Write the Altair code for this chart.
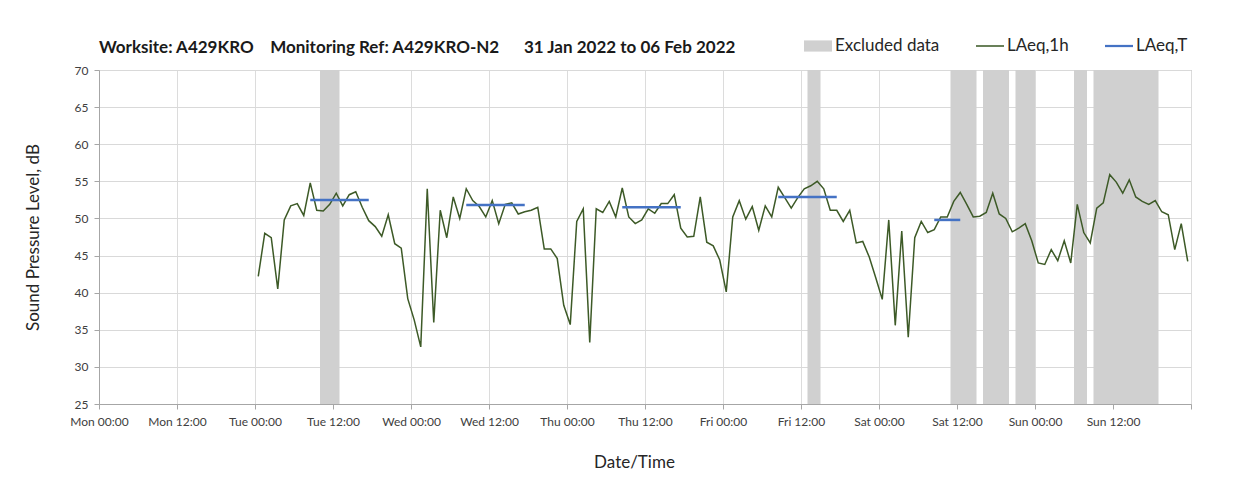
import altair as alt
import pandas as pd

# ---- data ----
day_labels = ["Mon", "Tue", "Wed", "Thu", "Fri", "Sat", "Sun"]
tick_hours = list(range(0, 169, 12))
y_ticks = list(range(25, 71, 5))

# hourly LAeq,1h values, first value centred at Tue 00:30 (hour 24.5 from Mon 00:00)
first_hour = 24.5
laeq_1h = [
    42.2, 48.0, 47.4, 40.5, 49.8, 51.7, 52.0, 50.4, 54.8, 51.1,
    51.0, 51.9, 53.4, 51.7, 53.2, 53.6, 51.5, 49.7, 48.9, 47.6,
    50.5, 46.6, 46.0, 39.2, 36.3, 32.7, 54.0, 36.0, 51.1, 47.4,
    52.9, 50.0, 54.0, 52.4, 51.6, 50.2, 52.4, 49.3, 51.9, 52.1,
    50.6, 50.9, 51.1, 51.5, 45.9, 45.9, 44.6, 38.3, 35.7, 49.6,
    51.3, 33.3, 51.3, 50.8, 52.3, 50.2, 54.1, 50.2, 49.3, 49.8,
    51.3, 50.7, 52.0, 52.0, 53.2, 48.7, 47.5, 47.6, 52.9, 46.8,
    46.3, 44.4, 40.1, 50.2, 52.4, 49.9, 51.6, 48.4, 51.7, 50.2,
    54.2, 52.8, 51.4, 52.8, 54.0, 54.4, 55.0, 54.0, 51.1, 51.1,
    49.6, 51.1, 46.7, 46.9, 44.8, 42.0, 39.1, 49.8, 35.6, 48.3,
    34.0, 47.4, 49.6, 48.1, 48.5, 50.2, 50.2, 52.3, 53.5, 51.9,
    50.2, 50.3, 50.8, 53.4, 50.6, 50.0, 48.2, 48.7, 49.3, 47.0,
    44.0, 43.8, 45.8, 44.3, 47.0, 44.0, 51.9, 48.1, 46.7, 51.4,
    52.1, 55.9, 54.9, 53.4, 55.2, 52.9, 52.3, 51.9, 52.4, 50.9,
    50.5, 45.8, 49.3, 44.2,
]
hours = [first_hour + i for i in range(len(laeq_1h))]

# LAeq,T period lines (start hour, end hour, level)
laeqT_start = [32.5, 56.5, 80.5, 104.5, 128.5]
laeqT_end = [41.5, 65.5, 89.5, 113.5, 132.5]
laeqT_val = [52.5, 51.8, 51.5, 52.9, 49.8]

# excluded data periods (hours from Mon 00:00)
excl_start = [34, 109, 131, 136, 141, 150, 153]
excl_end = [37, 111, 135, 140, 144, 152, 163]

series_names = ["Excluded data", "LAeq,1h", "LAeq,T"]
series_colors = ["#d0d0d0", "#3d5a27", "#4472c4"]
series_shapes = [
    "M-1,-0.4H1V0.4H-1Z",
    "M-1,-0.055H1V0.055H-1Z",
    "M-1,-0.08H1V0.08H-1Z",
]

df_line = pd.DataFrame({"hour": hours, "level": laeq_1h})
df_T = pd.DataFrame({"hour": laeqT_start, "hour_end": laeqT_end, "level": laeqT_val})
df_ex = pd.DataFrame({"hour": excl_start, "hour_end": excl_end})
df_leg = pd.DataFrame({"series": series_names, "level": [None] * 3})

FONT = "Lato"
XT = "Date/Time"
YT = "Sound Pressure Level, dB"

label_expr = (
    "datum.value >= 168 ? '' : "
    "['Mon','Tue','Wed','Thu','Fri','Sat','Sun'][floor(datum.value/24)] + ' ' + "
    "(datum.value % 24 == 0 ? '00:00' : '12:00')"
)

x_axis = alt.Axis(
    values=tick_hours, labelExpr=label_expr, labelFontSize=12, labelColor="#404040",
    tickSize=5, tickColor="#a6a6a6", domainColor="#a6a6a6", gridColor="#dcdcdc",
    labelPadding=7, titleFontSize=17, titleFontWeight="normal", titleColor="#262626",
    titlePadding=27, titleX=535, labelFlush=False, labelOverlap=False,
)
y_axis = alt.Axis(
    values=y_ticks, labelFontSize=12, labelColor="#404040",
    tickSize=5, tickColor="#a6a6a6", domainColor="#a6a6a6", gridColor="#d9d9d9",
    labelPadding=6, titleFontSize=17, titleFontWeight="normal", titleColor="#262626",
    titlePadding=32, labelOverlap=False, labelFlush=False, labelBound=False,
)
x_scale = alt.Scale(domain=[0, 168], nice=False, zero=False)
y_scale = alt.Scale(domain=[25, 70], nice=False, zero=False)

bands = alt.Chart(df_ex).mark_rect(color="#d0d0d0").encode(
    x=alt.X("hour:Q", scale=x_scale, axis=x_axis, title=XT),
    x2="hour_end:Q",
)

line = alt.Chart(df_line).mark_line(color="#3d5a27", strokeWidth=1.5).encode(
    x=alt.X("hour:Q", scale=x_scale, axis=x_axis, title=XT),
    y=alt.Y("level:Q", scale=y_scale, axis=y_axis, title=YT),
)

rules = alt.Chart(df_T).mark_rule(color="#4472c4", strokeWidth=2.5).encode(
    x=alt.X("hour:Q", scale=x_scale, axis=x_axis, title=XT),
    x2="hour_end:Q",
    y=alt.Y("level:Q", scale=y_scale, axis=y_axis, title=YT),
)

leg = alt.Legend(
    title=None, orient="none", legendX=705, legendY=-38, direction="horizontal",
    columns=3, columnPadding=36, symbolSize=784, symbolStrokeWidth=0,
    labelFontSize=17, labelFont=FONT, labelColor="#262626", labelOffset=3,
    padding=0,
)
legend_layer = alt.Chart(df_leg).mark_point(filled=True, opacity=1).encode(
    y=alt.Y("level:Q", scale=y_scale, axis=y_axis, title=YT),
    color=alt.Color("series:N", scale=alt.Scale(domain=series_names, range=series_colors), legend=leg),
    shape=alt.Shape("series:N", scale=alt.Scale(domain=series_names, range=series_shapes), legend=leg),
)

title_text = ("Worksite: A429KRO" + "\u00a0" * 4 + "Monitoring Ref: A429KRO-N2"
              + "\u00a0" * 6 + "31 Jan 2022 to 06 Feb 2022")

chart = alt.layer(bands, line, rules, legend_layer).properties(
    width=1092,
    height=334,
    title=alt.Title(title_text, anchor="start", frame="group", fontSize=17, fontWeight="bold",
                    font=FONT, color="#1a1a1a", offset=12, dy=37),
    autosize=alt.AutoSizeParams(type="none"),
    padding={"left": 91, "top": 62, "right": 40, "bottom": 80},
).configure(font=FONT).configure_view(stroke="#a6a6a6", strokeWidth=1).configure_axis(
    labelFont=FONT, titleFont=FONT
)

chart.save("out.html", embed_options={"renderer": "svg", "actions": False})
